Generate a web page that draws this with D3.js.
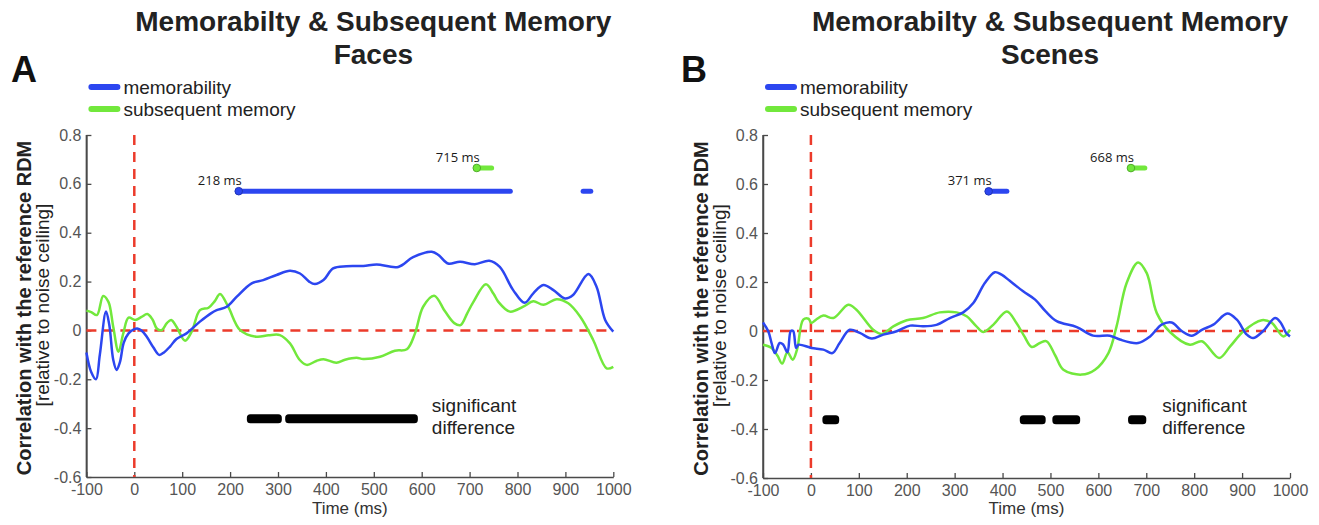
<!DOCTYPE html>
<html>
<head>
<meta charset="utf-8">
<script src="https://cdn.jsdelivr.net/npm/d3@7"></script>
<style>
  html, body { margin: 0; padding: 0; background: #fff; }
  svg text { font-family: "Liberation Sans", Arial, Helvetica, sans-serif; }
</style>
</head>
<body>
<svg id="chart" width="1319" height="525"></svg>
<script>
// ---- axis ticks ----
const timeTicks = [-100, 0, 100, 200, 300, 400, 500, 600, 700, 800, 900, 1000];
const corrTicks = [-0.6, -0.4, -0.2, 0, 0.2, 0.4, 0.6, 0.8];

// ---- series: [time (ms), correlation relative to noise ceiling] ----
const facesMemorability = [
  [-100,-0.09],[-90,-0.17],[-80,-0.20],[-72,-0.10],[-59,0.077],[-52,0.02],[-44,-0.12],[-37,-0.162],
  [-30,-0.13],[-22,-0.05],[-12,-0.012],[0,0.005],[6,0.008],[15,0.0],[26,-0.026],[40,-0.07],[52,-0.10],
  [62,-0.09],[75,-0.065],[88,-0.035],[109,-0.012],[137,0.036],[160,0.07],[172,0.083],[193,0.097],
  [214,0.138],[245,0.193],[269,0.206],[297,0.227],[325,0.244],[346,0.233],[365,0.20],[377,0.19],
  [395,0.206],[415,0.254],[443,0.263],[478,0.264],[506,0.27],[551,0.26],[582,0.30],[621,0.322],
  [635,0.309],[655,0.274],[680,0.281],[711,0.271],[741,0.285],[763,0.26],[791,0.165],[815,0.113],
  [833,0.152],[854,0.186],[875,0.165],[899,0.131],[916,0.145],[948,0.231],[965,0.179],[983,0.043],
  [1000,-0.005]
];
const facesSubsequent = [
  [-100,0.081],[-90,0.075],[-78,0.063],[-65,0.141],[-54,0.117],[-44,0.015],[-33,-0.087],[-23,-0.012],
  [-12,0.052],[2,0.043],[15,0.055],[27,0.067],[38,0.045],[47,0.008],[57,0.001],[68,0.03],[77,0.043],
  [88,0.015],[106,-0.042],[120,-0.004],[137,0.083],[155,0.093],[168,0.12],[179,0.149],[196,0.097],
  [221,0.001],[255,-0.026],[280,-0.02],[304,-0.019],[325,-0.053],[345,-0.12],[360,-0.141],[380,-0.125],
  [395,-0.118],[422,-0.132],[440,-0.12],[464,-0.112],[478,-0.117],[513,-0.108],[544,-0.083],[569,-0.077],
  [586,-0.012],[603,0.097],[626,0.142],[649,0.077],[668,0.03],[681,0.022],[695,0.07],[708,0.117],
  [734,0.189],[750,0.15],[760,0.117],[784,0.077],[812,0.097],[833,0.119],[854,0.105],[882,0.128],
  [906,0.111],[931,0.056],[958,-0.039],[986,-0.155],[1000,-0.149]
];
const scenesMemorability = [
  [-100,0.035],[-89,-0.001],[-82,-0.05],[-75,-0.09],[-65,-0.049],[-58,-0.055],[-49,-0.087],[-42,0.0],
  [-37,0.0],[-31,-0.069],[-26,-0.056],[1,-0.069],[26,-0.076],[45,-0.09],[60,-0.049],[81,0.005],
  [102,-0.008],[127,-0.031],[151,-0.015],[179,-0.001],[207,0.022],[234,0.019],[262,0.025],[290,0.053],
  [318,0.076],[339,0.114],[363,0.196],[384,0.24],[398,0.23],[415,0.205],[443,0.162],[468,0.128],
  [490,0.08],[513,0.04],[555,0.016],[589,-0.019],[624,-0.019],[645,-0.035],[683,-0.049],[708,-0.022],
  [732,0.026],[753,0.035],[774,0.0],[795,-0.019],[816,0.005],[840,0.026],[869,0.071],[889,0.046],
  [910,-0.015],[923,-0.029],[944,0.0],[969,0.053],[981,0.033],[992,-0.008],[1000,-0.022]
];
const scenesSubsequent = [
  [-100,-0.056],[-82,-0.069],[-70,-0.1],[-60,-0.133],[-49,-0.087],[-38,-0.117],[-29,-0.076],[-16,0.046],
  [-5,0.05],[1,0.033],[10,0.045],[26,0.063],[47,0.053],[78,0.107],[95,0.087],[130,0.005],[148,-0.012],
  [172,0.019],[200,0.044],[234,0.053],[269,0.076],[304,0.076],[325,0.06],[345,0.02],[360,-0.004],
  [381,0.026],[409,0.08],[429,0.033],[445,-0.02],[461,-0.065],[478,-0.049],[492,-0.042],[510,-0.1],
  [527,-0.158],[565,-0.178],[593,-0.158],[621,-0.09],[638,0.019],[659,0.196],[683,0.28],[701,0.236],
  [722,0.073],[750,-0.005],[791,-0.056],[816,-0.042],[852,-0.11],[875,-0.063],[903,-0.001],[941,0.044],
  [962,0.033],[986,-0.022],[1000,0.005]
];

// ---- significant time windows (ms) ----
const facesMemRuns = [[218, 785], [937, 953]];
const facesSubRuns = [[715, 746]];
const facesDiffRuns = [[235, 308], [315, 592]];
const scenesMemRuns = [[371, 409]];
const scenesSubRuns = [[668, 697]];
const scenesDiffRuns = [[24, 59], [436, 490], [504, 562], [662, 700]];

// level (in correlation units) of the onset markers and difference bars
const memRunLevel = 0.57;
const subRunLevel = 0.665;
const diffLevel = -0.362;

const seriesNames = ["memorability", "subsequent memory"];
const titleLine = "Memorabilty & Subsequent Memory";

const panels = [
  { letter: "A", subtitle: "Faces", mem: facesMemorability, sub: facesSubsequent,
    memRuns: facesMemRuns, subRuns: facesSubRuns, diffRuns: facesDiffRuns },
  { letter: "B", subtitle: "Scenes", mem: scenesMemorability, sub: scenesSubsequent,
    memRuns: scenesMemRuns, subRuns: scenesSubRuns, diffRuns: scenesDiffRuns }
];

// ---- layout ----
const layouts = [
  { x0: 86.4, x1: 613.3, yTop: 135, yBot: 477, letterX: 11 },
  { x0: 763, x1: 1290, yTop: 135, yBot: 478, letterX: 681 }
];
const BLUE = "#2c46f0";
const GREEN = "#72e83c";
const RED = "#ec3b2b";
const AXIS = "#4a4a4a";

const svg = d3.select("#chart");
svg.append("rect").attr("width", 1319).attr("height", 525).attr("fill", "#fff");

panels.forEach((p, i) => {
  const L = layouts[i];
  const x = d3.scaleLinear().domain([-100, 1000]).range([L.x0, L.x1]);
  const y = d3.scaleLinear().domain([-0.6, 0.8]).range([L.yBot, L.yTop]);
  const g = svg.append("g");
  const cx = (L.x0 + L.x1) / 2;

  // titles
  g.append("text").attr("x", cx + 23.5).attr("y", 31).attr("text-anchor", "middle")
    .attr("font-size", 28).attr("font-weight", "bold").attr("fill", "#222").text(titleLine);
  g.append("text").attr("x", cx + 23.5).attr("y", 64).attr("text-anchor", "middle")
    .attr("font-size", 28).attr("font-weight", "bold").attr("fill", "#222").text(p.subtitle);
  g.append("text").attr("x", L.letterX).attr("y", 82)
    .attr("font-size", 36).attr("font-weight", "bold").attr("fill", "#111").text(p.letter);

  // legend
  [BLUE, GREEN].forEach((c, k) => {
    const ly = 87 + k * 22;
    g.append("line").attr("x1", L.x0 + 5).attr("x2", L.x0 + 31).attr("y1", ly).attr("y2", ly)
      .attr("stroke", c).attr("stroke-width", 6).attr("stroke-linecap", "round");
    g.append("text").attr("x", L.x0 + 37).attr("y", ly + 6.5).attr("font-size", 19)
      .attr("fill", "#222").text(seriesNames[k]);
  });

  // axes
  const xAxis = d3.axisBottom(x).tickValues(timeTicks).tickSize(-5).tickSizeOuter(0)
    .tickPadding(7).tickFormat(d => String(d));
  const yAxis = d3.axisLeft(y).tickValues(corrTicks).tickSize(-5).tickSizeOuter(0)
    .tickPadding(5).tickFormat(d => d === 0 ? "0" : d.toFixed(1));
  const gx = g.append("g").attr("transform", `translate(0,${L.yBot})`).call(xAxis);
  const gy = g.append("g").attr("transform", `translate(${L.x0},0)`).call(yAxis);
  [gx, gy].forEach(a => {
    a.select(".domain").attr("stroke", AXIS).attr("stroke-width", 1.5);
    a.selectAll(".tick line").attr("stroke", AXIS).attr("stroke-width", 1.3);
    a.selectAll(".tick text").attr("fill", "#555").attr("font-size", 16)
      .attr("font-family", '"Liberation Sans", Arial, sans-serif');
  });
  // extend the y domain line down to the x axis
  g.append("line").attr("x1", L.x0).attr("x2", L.x0).attr("y1", L.yTop).attr("y2", L.yBot)
    .attr("stroke", AXIS).attr("stroke-width", 1.5);

  // axis titles
  g.append("text").attr("x", cx).attr("y", 514).attr("text-anchor", "middle")
    .attr("font-size", 17).attr("fill", "#333").text("Time (ms)");
  const ymid = (L.yTop + L.yBot) / 2 + 2;
  g.append("text").attr("transform", `translate(${L.x0 - 55},${ymid}) rotate(-90)`)
    .attr("text-anchor", "middle").attr("font-size", 20).attr("font-weight", "bold")
    .attr("fill", "#222").text("Correlation with the reference RDM");
  g.append("text").attr("transform", `translate(${L.x0 - 37},${ymid - 3}) rotate(-90)`)
    .attr("text-anchor", "middle").attr("font-size", 19)
    .attr("fill", "#222").text("[relative to noise ceiling]");

  // zero reference lines
  g.append("line").attr("x1", x(0)).attr("x2", x(0)).attr("y1", y(0.8)).attr("y2", L.yBot)
    .attr("stroke", RED).attr("stroke-width", 2.5).attr("stroke-dasharray", "10,7");
  g.append("line").attr("x1", x(-100)).attr("x2", x(1000)).attr("y1", y(0)).attr("y2", y(0))
    .attr("stroke", RED).attr("stroke-width", 2.5).attr("stroke-dasharray", "10,7");

  // correlation time courses
  const line = d3.line().x(d => x(d[0])).y(d => y(d[1])).curve(d3.curveCatmullRom.alpha(0.5));
  g.append("path").datum(p.sub).attr("d", line).attr("fill", "none")
    .attr("stroke", GREEN).attr("stroke-width", 2.5).attr("stroke-linejoin", "round");
  g.append("path").datum(p.mem).attr("d", line).attr("fill", "none")
    .attr("stroke", BLUE).attr("stroke-width", 2.5).attr("stroke-linejoin", "round");

  // onset markers with significant windows
  const onset = (runs, level, color, edge) => {
    runs.forEach(r => {
      g.append("line").attr("x1", x(r[0])).attr("x2", x(r[1])).attr("y1", y(level)).attr("y2", y(level))
        .attr("stroke", color).attr("stroke-width", 5).attr("stroke-linecap", "round");
    });
    const t0 = runs[0][0];
    g.append("circle").attr("cx", x(t0)).attr("cy", y(level)).attr("r", 3.8)
      .attr("fill", color).attr("stroke", edge).attr("stroke-width", 1);
    g.append("text").attr("x", x(t0) + 3).attr("y", y(level) - 6).attr("text-anchor", "end")
      .attr("font-size", 13).attr("fill", "#1a1a1a")
      .style("font-family", '"Open Sans", "Noto Sans", sans-serif').text(t0 + " ms");
  };
  onset(p.memRuns, memRunLevel, BLUE, "#1f34b8");
  onset(p.subRuns, subRunLevel, GREEN, "#4fae28");

  // significant difference bars
  p.diffRuns.forEach(r => {
    g.append("rect").attr("x", x(r[0])).attr("y", y(diffLevel) - 4.5)
      .attr("width", x(r[1]) - x(r[0])).attr("height", 9).attr("rx", 3.5).attr("fill", "#000");
  });
  const lastEnd = d3.max(p.diffRuns, r => r[1]);
  const sx = i === 0 ? x(lastEnd) + 14 : x(lastEnd) + 16;
  g.append("text").attr("x", sx).attr("y", 412).attr("font-size", 19).attr("fill", "#222").text("significant");
  g.append("text").attr("x", sx).attr("y", 434).attr("font-size", 19).attr("fill", "#222").text("difference");
});
</script>
</body>
</html>
